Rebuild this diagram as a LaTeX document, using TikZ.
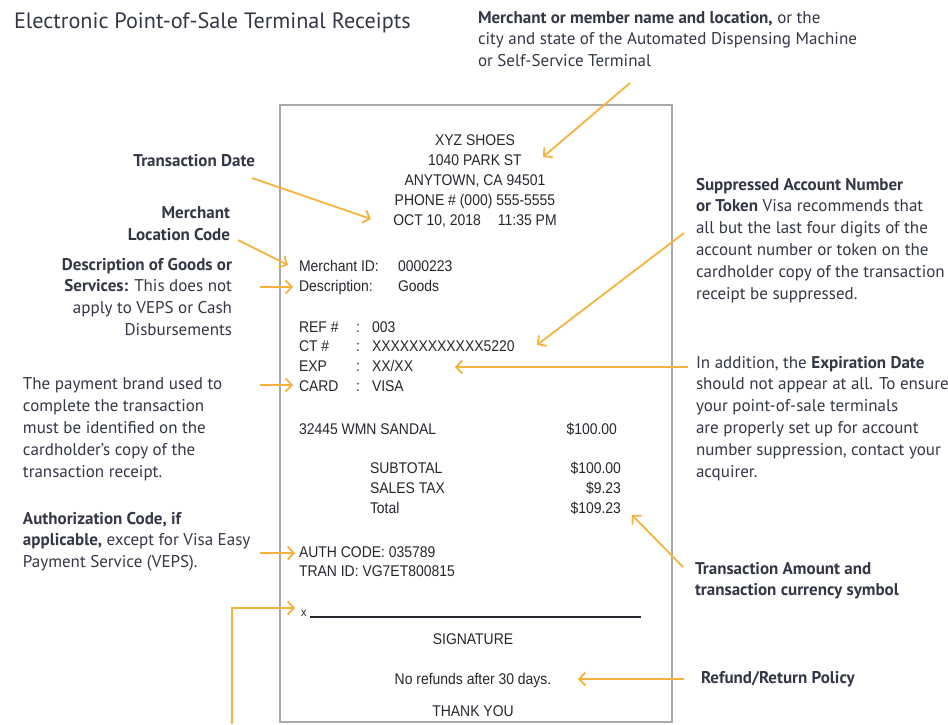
\documentclass[tikz,border=0pt]{standalone}
\usepackage{fontspec}
\setmainfont{PT Sans}
\newfontfamily\rcpt[FakeStretch=0.9]{Liberation Sans}
\usetikzlibrary{arrows.meta}
\definecolor{gold}{HTML}{F5B33D}
\definecolor{ink}{HTML}{343746}
\definecolor{rink}{HTML}{26262E}
\definecolor{boxgray}{HTML}{A8A8A8}
\begin{document}
\begin{tikzpicture}[x=1pt,y=-1pt,
  every node/.style={inner sep=0pt,outer sep=0pt},
  note/.style={font=\fontsize{17}{21.8}\selectfont,text=ink},
  rc/.style={font=\rcpt\fontsize{15.5}{20}\selectfont,text=rink},
  arr/.style={draw=gold,line width=1.8pt,-{Straight Barb[length=6pt,width=13pt]}},
  wire/.style={draw=gold,line width=1.8pt}]
\useasboundingbox (0,0) rectangle (948,724);
\fill[white] (0,0) rectangle (948,724);
% title
\node[anchor=base west,font=\fontsize{22.2}{26}\selectfont,text=ink] (title) at (14,28) {Electronic Point-of-Sale Terminal Receipts};
% receipt box
\draw[boxgray,line width=1.6pt] (280,105) rectangle (672,722);
% receipt text
\node[rc,anchor=north,align=center] (head) at (475,135) {XYZ SHOES\\1040 PARK ST\\ANYTOWN, CA 94501\\PHONE \# (000) 555-5555\\OCT 10, 2018\hspace{1.1em}11:35 PM};
\node[rc,anchor=base west] (mid) at (299,271) {Merchant ID:};
\node[rc,anchor=base west] (midv) at (398,271) {0000223};
\node[rc,anchor=base west] (desc) at (299,291) {Description:};
\node[rc,anchor=base west] (descv) at (398,291) {Goods};
\node[rc,anchor=base west] (ref) at (299,332) {REF \#};
\node[rc,anchor=base west] (refc) at (356,332) {:};
\node[rc,anchor=base west] (refv) at (372,332) {003};
\node[rc,anchor=base west] (ct) at (299,351) {CT \#};
\node[rc,anchor=base west] (ctc) at (356,351) {:};
\node[rc,anchor=base west] (ctv) at (372,351) {XXXXXXXXXXXX5220};
\node[rc,anchor=base west] (exp) at (299,371) {EXP};
\node[rc,anchor=base west] (expc) at (356,371) {:};
\node[rc,anchor=base west] (expv) at (372,371) {XX/XX};
\node[rc,anchor=base west] (card) at (299,391) {CARD};
\node[rc,anchor=base west] (cardc) at (356,391) {:};
\node[rc,anchor=base west] (cardv) at (372,391) {VISA};
\node[rc,anchor=base west] (item) at (299,434) {32445 WMN SANDAL};
\node[rc,anchor=base east] (itemv) at (617,434) {\$100.00};
\node[rc,anchor=base west] (sub) at (370,473) {SUBTOTAL};
\node[rc,anchor=base east] (subv) at (621,473) {\$100.00};
\node[rc,anchor=base west] (tax) at (370,493) {SALES TAX};
\node[rc,anchor=base east] (taxv) at (621,493) {\$9.23};
\node[rc,anchor=base west] (tot) at (370,513) {Total};
\node[rc,anchor=base east] (totv) at (621,513) {\$109.23};
\node[rc,anchor=base west] (auth) at (299,557) {AUTH CODE: 035789};
\node[rc,anchor=base west] (tran) at (299,576) {TRAN ID: VG7ET800815};
\node[rc,anchor=base west,font=\rcpt\fontsize{12}{14}\selectfont] (xmark) at (301,616) {x};
\coordinate (sigA) at (310,617);
\coordinate (sigB) at (641,617);
\draw[rink,line width=1.2pt] (sigA) -- (sigB);
\node[rc,anchor=base] (sig) at (473,644) {SIGNATURE};
\node[rc,anchor=base] (refund) at (473,684) {No refunds after 30 days.};
\node[rc,anchor=base] (thanks) at (473,716) {THANK YOU};
% annotations
\node[note,anchor=north west,align=left] (nmerch) at (478,11) {\textbf{Merchant or member name and location,} or the\\city and state of the Automated Dispensing Machine\\or Self-Service Terminal};
\node[note,anchor=north east,align=right] (ndate) at (255,154) {\textbf{Transaction Date}};
\node[note,anchor=north east,align=right] (nloc) at (230,207) {\textbf{Merchant}\\\textbf{Location Code}};
\node[note,anchor=north east,align=right] (ndesc) at (232,258) {\textbf{Description of Goods or}\\\textbf{Services:} This does not\\apply to VEPS or Cash\\Disbursements};
\node[note,anchor=north west,align=left] (nbrand) at (23,378) {The payment brand used to\\complete the transaction\\must be identified on the\\cardholder's copy of the\\transaction receipt.};
\node[note,anchor=north west,align=left] (nauth) at (23,512) {\textbf{Authorization Code, if}\\\textbf{applicable,} except for Visa Easy\\Payment Service (VEPS).};
\node[note,anchor=north west,align=left] (nsupp) at (696,178) {\textbf{Suppressed Account Number}\\\textbf{or Token} Visa recommends that\\all but the last four digits of the\\account number or token on the\\cardholder copy of the transaction\\receipt be suppressed.};
\node[note,anchor=north west,align=left] (nexp) at (696,356) {In addition, the \textbf{Expiration Date}\\should not appear at all. To ensure\\your point-of-sale terminals\\are properly set up for account\\number suppression, contact your\\acquirer.};
\node[note,anchor=north west,align=left] (namt) at (695,562) {\textbf{Transaction Amount and}\\\textbf{transaction currency symbol}};
\node[note,anchor=north west,align=left] (nref) at (701,671) {\textbf{Refund/Return Policy}};
% connector end points
\coordinate (a1s) at (630,83);   \coordinate (a1e) at (543,157);
\coordinate (a2s) at (252,178);  \coordinate (a2e) at (371,219);
\coordinate (a3s) at (238,240);  \coordinate (a3e) at (288,265);
\coordinate (a4s) at (260,287);  \coordinate (a4e) at (293,287);
\coordinate (a5s) at (684,233);  \coordinate (a5e) at (537,345);
\coordinate (a6s) at (688,367);  \coordinate (a6e) at (455,367);
\coordinate (a7s) at (260,385);  \coordinate (a7e) at (293,385);
\coordinate (a8s) at (260,553);  \coordinate (a8e) at (295,553);
\coordinate (a9s) at (683,567);  \coordinate (a9e) at (632,515);
\coordinate (a10s) at (232,724); \coordinate (a10m) at (232,608); \coordinate (a10e) at (295,608);
\coordinate (a11s) at (684,679); \coordinate (a11e) at (578,679);
\draw[arr] (a1s) -- (a1e);
\draw[arr] (a2s) -- (a2e);
\draw[arr] (a3s) -- (a3e);
\draw[arr] (a4s) -- (a4e);
\draw[arr] (a5s) -- (a5e);
\draw[arr] (a6s) -- (a6e);
\draw[arr] (a7s) -- (a7e);
\draw[arr] (a8s) -- (a8e);
\draw[arr] (a9s) -- (a9e);
\draw[arr] (a10s) -- (a10m) -- (a10e);
\draw[arr] (a11s) -- (a11e);
\end{tikzpicture}
\end{document}
